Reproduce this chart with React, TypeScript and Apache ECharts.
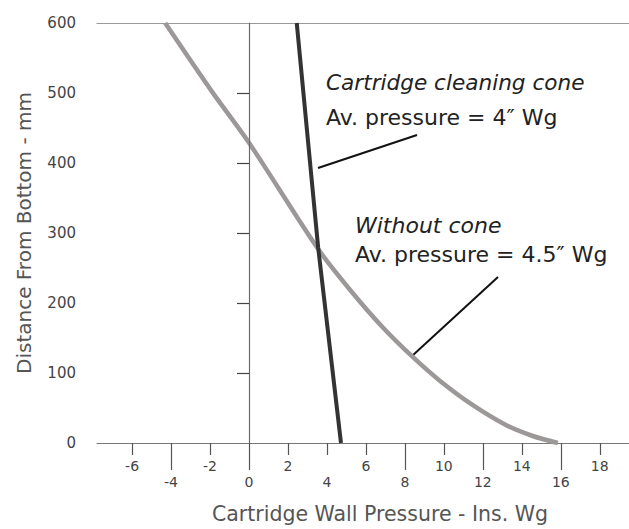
import React, { useEffect, useRef } from "react";
import * as echarts from "echarts";

// ---- data ----
const xLabelsUpper = [-6, -2, 2, 6, 10, 14, 18];
const xLabelsLower = [-4, 0, 4, 8, 12, 16];
const xShortTicks = [-6, -2, 2, 4, 6, 10, 14, 18];
const xLongTicks = [-4, 0, 8, 12, 16];
const yLabels = [0, 100, 200, 300, 400, 500, 600];
const yTicks = [100, 200, 300, 400, 500];

// Cartridge cleaning cone (pressure, distance)
const conePressure = [2.45, 3.55, 4.72];
const coneDistance = [600, 279, 0];

// Without cone (pressure, distance)
const noConePressure = [-4.3, -1.9, 0, 3.55, 5.18, 6.87, 8.36, 9.79, 11.49, 13.23, 14.56, 15.85];
const noConeDistance = [600, 502, 429, 277, 219, 165, 124, 89, 54, 25, 10, 0];

const X_MIN = -7.8;
const X_MAX = 19.5;

const FONT = "DejaVu Sans";
const AXIS_TEXT = "#444";

export default function App() {
  const ref = useRef<HTMLDivElement>(null);

  useEffect(() => {
    if (!ref.current) return;
    const chart = echarts.init(ref.current, undefined, { renderer: "svg" });

    const cone = conePressure.map((x, i) => [x, coneDistance[i]]);
    const noCone = noConePressure.map((x, i) => [x, noConeDistance[i]]);

    const baseX = {
      type: "value" as const,
      min: X_MIN,
      max: X_MAX,
      splitLine: { show: false },
    };

    chart.setOption({
      animation: false,
      backgroundColor: "#ffffff",
      grid: { left: 97, right: 0, top: 23, bottom: 85, containLabel: false },
      xAxis: [
        {
          ...baseX,
          position: "bottom",
          axisLine: { show: true, lineStyle: { color: "#777", width: 1.2 } },
          axisTick: {
            show: true,
            customValues: xShortTicks,
            length: 12,
            lineStyle: { color: "#555", width: 1.2 },
          },
          axisLabel: {
            customValues: xLabelsUpper,
            margin: 16,
            fontFamily: FONT,
            fontSize: 14,
            color: AXIS_TEXT,
          },
          name: "Cartridge Wall Pressure - Ins. Wg",
          nameLocation: "middle",
          nameGap: 60,
          nameTextStyle: {
            fontFamily: FONT,
            fontSize: 20.5,
            color: "#555",
            padding: [0, 0, 0, 34],
          },
        },
        {
          ...baseX,
          position: "bottom",
          axisLine: { show: false },
          axisTick: {
            show: true,
            customValues: xLongTicks,
            length: 27,
            lineStyle: { color: "#555", width: 1.2 },
          },
          axisLabel: {
            customValues: xLabelsLower,
            margin: 32,
            fontFamily: FONT,
            fontSize: 14,
            color: AXIS_TEXT,
          },
        },
        {
          ...baseX,
          position: "top",
          axisLine: { show: true, lineStyle: { color: "#999", width: 1.2 } },
          axisTick: { show: false },
          axisLabel: { show: false },
        },
      ],
      yAxis: {
        type: "value",
        min: 0,
        max: 600,
        splitLine: { show: false },
        axisLine: { show: true, lineStyle: { color: "#888", width: 1.2 } },
        axisTick: {
          show: true,
          customValues: yTicks,
          length: 12,
          lineStyle: { color: "#444", width: 1.2 },
        },
        axisLabel: {
          customValues: yLabels,
          margin: 21,
          fontFamily: FONT,
          fontSize: 15,
          color: AXIS_TEXT,
          padding: [0, 0, 8, 0],
        },
        name: "Distance From Bottom - mm",
        nameLocation: "middle",
        nameGap: 63,
        nameTextStyle: {
          fontFamily: FONT,
          fontSize: 20,
          color: "#555",
          padding: [0, 0, 0, 0],
        },
      },
      series: [
        {
          name: "Without cone",
          type: "line",
          xAxisIndex: 0,
          data: noCone,
          smooth: 0.3,
          showSymbol: false,
          lineStyle: { color: "#9c9898", width: 4.5 },
          z: 3,
        },
        {
          name: "Cartridge cleaning cone",
          type: "line",
          xAxisIndex: 0,
          data: cone,
          showSymbol: false,
          lineStyle: { color: "#333", width: 4 },
          z: 4,
          markLine: {
            silent: true,
            symbol: "none",
            label: { show: false },
            lineStyle: { color: "#666", width: 1, type: "solid" },
            data: [{ xAxis: 0 }],
          },
        },
      ],
      graphic: [
        {
          type: "text",
          left: 326,
          top: 71,
          style: {
            text: "Cartridge cleaning cone",
            font: `italic 21.6px "${FONT}"`,
            fill: "#222",
          },
        },
        {
          type: "text",
          left: 326,
          top: 106,
          style: {
            text: "Av. pressure = 4\u2033 Wg",
            font: `22px "${FONT}"`,
            fill: "#222",
          },
        },
        {
          type: "text",
          left: 355,
          top: 214,
          style: {
            text: "Without cone",
            font: `italic 22px "${FONT}"`,
            fill: "#222",
          },
        },
        {
          type: "text",
          left: 355,
          top: 243,
          style: {
            text: "Av. pressure = 4.5\u2033 Wg",
            font: `22px "${FONT}"`,
            fill: "#222",
          },
        },
        {
          type: "line",
          shape: { x1: 417, y1: 135, x2: 318, y2: 168 },
          style: { stroke: "#111", lineWidth: 2 },
        },
        {
          type: "line",
          shape: { x1: 498, y1: 277, x2: 412, y2: 356 },
          style: { stroke: "#111", lineWidth: 2 },
        },
      ],
    });

    return () => chart.dispose();
  }, []);

  return (
    <div
      ref={ref}
      style={{
        position: "fixed",
        left: 0,
        top: 0,
        width: 629,
        height: 529,
        background: "#fff",
      }}
    />
  );
}
